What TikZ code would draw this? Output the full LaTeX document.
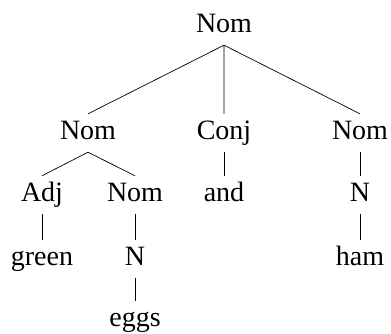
\documentclass[tikz,border=0pt]{standalone}
\usepackage{fontspec}
\setmainfont{Liberation Serif}
\usepackage{tikz}

\begin{document}
\begin{tikzpicture}[x=1pt,y=-1pt,
                    every node/.style={font=\fontsize{28}{34}\selectfont,anchor=base,
                                       text height=19pt,text depth=7pt,inner sep=6pt},
                    branch/.style={line width=0.7pt}]
  \useasboundingbox (0,0) rectangle (391,333);
  \node (nom)   at (224,32)  {Nom};
  \node (nomL)  at (88,139)  {Nom};
  \node (conj)  at (224,139) {Conj};
  \node (nomR)  at (360,139) {Nom};
  \node (adj)   at (42,201)  {Adj};
  \node (nomM)  at (135,201) {Nom};
  \node (and)   at (224,201) {and};
  \node (nR)    at (360,201) {N};
  \node (green) at (42,265)  {green};
  \node (nM)    at (135,265) {N};
  \node (ham)   at (360,265) {ham};
  \node (eggs)  at (135,326.5) {eggs};
  \draw[branch] (nom.south) -- (nomL.north)
                (nom.south) -- (conj.north)
                (nom.south) -- (nomR.north);
  \draw[branch] (nomL.south) -- (adj.north)
                (nomL.south) -- (nomM.north);
  \draw[branch] (conj.south) -- (and.north);
  \draw[branch] (nomR.south) -- (nR.north);
  \draw[branch] (adj.south) -- (green.north);
  \draw[branch] (nomM.south) -- (nM.north);
  \draw[branch] (nR.south) -- (ham.north);
  \draw[branch] (nM.south) -- (eggs.north);
\end{tikzpicture}
\end{document}
